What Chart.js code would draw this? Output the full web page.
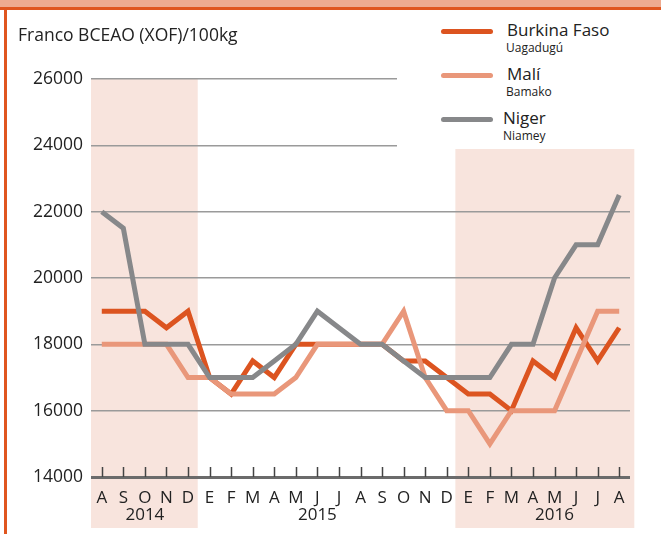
<!DOCTYPE html>
<html>
<head>
<meta charset="utf-8">
<script src="https://cdn.jsdelivr.net/npm/chart.js@4.4.0/dist/chart.umd.min.js"></script>
<style>
  body { margin: 0; background: #fff; font-family: "Open Sans", sans-serif; color: #222; }
  #wrap { position: relative; width: 661px; height: 534px; overflow: hidden; }
  #canvas { position: absolute; left: 0; top: 0; }
  .band { position: absolute; left: 0; top: 0; width: 661px; height: 7px; background: #eeab90; }
  .rule { position: absolute; left: 0; top: 7px; width: 661px; height: 3px; background: #e0561f; }
  .side { position: absolute; left: 4px; top: 7px; width: 3px; height: 527px; background: #e0561f; }
  #title { position: absolute; left: 18px; top: 26px; font-size: 17.5px; line-height: 1; white-space: nowrap; }
  #legend { position: absolute; left: 397px; top: 12px; width: 264px; height: 137px; background: #fff; }
  .lg-line { position: absolute; left: 44px; width: 52px; height: 5px; border-radius: 3px; }
  .lg-name { position: absolute; left: 110px; font-size: 17px; line-height: 1; white-space: nowrap; }
  .lg-sub { position: absolute; left: 109px; font-size: 12px; line-height: 1; white-space: nowrap; }
</style>
</head>
<body>
<div id="wrap">
  <canvas id="canvas" width="661" height="534"></canvas>
  <div class="band"></div>
  <div class="rule"></div>
  <div class="side"></div>
  <div id="title">Franco BCEAO (XOF)/100kg</div>
  <div id="legend"></div>
</div>
<script>
"use strict";
// months from August 2014 to August 2016
const months = ['A','S','O','N','D','E','F','M','A','M','J','J','A','S','O','N','D','E','F','M','A','M','J','J','A'];
const years = ['2014', '2015', '2016'];
const yearAt = [2, 10, 21];

const names = ['Burkina Faso', 'Malí', 'Niger'];
const cities = ['Uagadugú', 'Bamako', 'Niamey'];
const colors = ['#dc5420', '#e9977a', '#87888a'];

const burkina = [19000,19000,19000,18500,19000,17000,16500,17500,17000,18000,18000,18000,18000,18000,17500,17500,17000,16500,16500,16000,17500,17000,18500,17500,18500];
const mali    = [18000,18000,18000,18000,17000,17000,16500,16500,16500,17000,18000,18000,18000,18000,19000,17000,16000,16000,15000,16000,16000,16000,17500,19000,19000];
const niger   = [22000,21500,18000,18000,18000,17000,17000,17000,17500,18000,19000,18500,18000,18000,17500,17000,17000,17000,17000,18000,18000,20000,21000,21000,22500];

// shaded periods, in category index units
const shadeFrom = [-0.5, 16.4];
const shadeTo = [4.45, 24.7];

const labels = months.map(function(m, i){
  const k = yearAt.indexOf(i);
  return [m, k >= 0 ? years[k] : ''];
});

// legend
const lg = document.getElementById('legend');
names.forEach(function(n, i){
  const line = document.createElement('div');
  line.className = 'lg-line';
  line.style.top = (16.5 + i * 44) + 'px';
  line.style.background = colors[i];
  lg.appendChild(line);
  const t = document.createElement('div');
  t.className = 'lg-name';
  t.style.top = (9 + i * 44) + 'px';
  t.style.left = (i === 2 ? 106 : 110) + 'px';
  t.textContent = n;
  lg.appendChild(t);
  const s = document.createElement('div');
  s.className = 'lg-sub';
  s.style.top = (29.5 + i * 44) + 'px';
  s.style.left = (i === 2 ? 106 : 109) + 'px';
  s.textContent = cities[i];
  lg.appendChild(s);
});

const shading = {
  id: 'shading',
  beforeDraw: function(chart){
    const c = chart.ctx, x = chart.scales.x, a = chart.chartArea;
    c.save();
    c.fillStyle = '#f8e4dd';
    for (let i = 0; i < shadeFrom.length; i++) {
      const x0 = x.getPixelForValue(shadeFrom[i]);
      const x1 = x.getPixelForValue(shadeTo[i]);
      c.fillRect(x0, a.top, x1 - x0, 528 - a.top);
    }
    c.restore();
  },
  beforeDatasetsDraw: function(chart){
    // tick marks above the axis line
    const c = chart.ctx, x = chart.scales.x, a = chart.chartArea;
    c.save();
    c.strokeStyle = '#444';
    c.lineWidth = 1.5;
    c.beginPath();
    for (let i = 0; i < months.length; i++) {
      const px = Math.round(x.getPixelForValue(i)) + 0.5;
      c.moveTo(px, a.bottom - 10);
      c.lineTo(px, a.bottom);
    }
    c.stroke();
    c.restore();
  }
};

new Chart(document.getElementById('canvas'), {
  type: 'line',
  data: {
    labels: labels,
    datasets: [
      { label: names[0], data: burkina, borderColor: colors[0], order: 2 },
      { label: names[1], data: mali, borderColor: colors[1], order: 1 },
      { label: names[2], data: niger, borderColor: colors[2], order: 0 }
    ]
  },
  options: {
    responsive: false,
    animation: false,
    layout: { padding: { top: 79, right: 31, left: 0, bottom: 0 } },
    elements: {
      line: { borderWidth: 5, tension: 0, fill: false },
      point: { radius: 0 }
    },
    plugins: {
      legend: { display: false },
      tooltip: { enabled: false }
    },
    scales: {
      x: {
        offset: true,
        grid: { display: false, drawTicks: false },
        border: { display: false },
        ticks: {
          autoSkip: false,
          maxRotation: 0,
          padding: 12,
          color: '#222',
          font: { family: 'Open Sans', size: 17, lineHeight: 1.03 }
        },
        afterFit: function(s){ s.height = 57; }
      },
      y: {
        min: 14000,
        max: 26000,
        grid: {
          drawTicks: false,
          color: function(ctx){ return ctx.tick && ctx.tick.value === 14000 ? '#6b6b6b' : '#9a9a9a'; },
          lineWidth: function(ctx){ return ctx.tick && ctx.tick.value === 14000 ? 3 : 1.5; }
        },
        border: { display: false },
        ticks: {
          stepSize: 2000,
          padding: 8,
          color: '#222',
          font: { family: 'Open Sans', size: 17.5 },
          callback: function(v){ return String(v); }
        },
        afterFit: function(s){ s.width = 91; }
      }
    }
  },
  plugins: [shading]
});
</script>
</body>
</html>
